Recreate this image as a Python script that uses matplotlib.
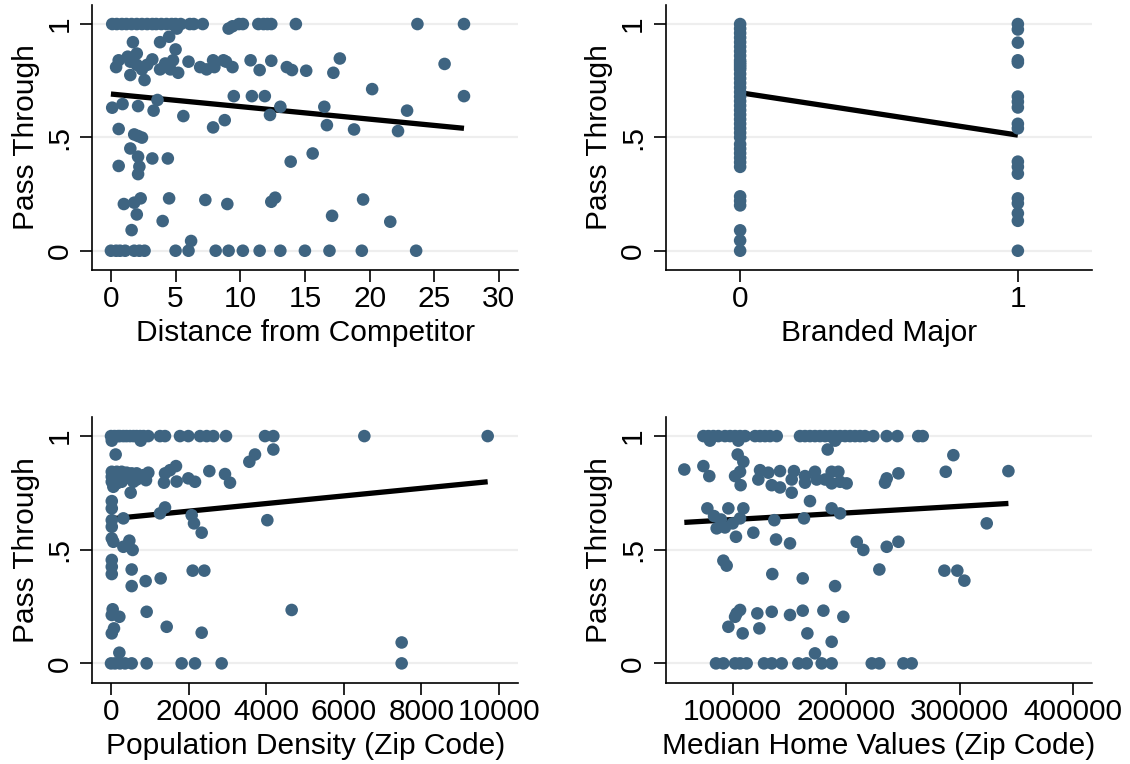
import numpy as np
import matplotlib
matplotlib.use('Agg')
import matplotlib.pyplot as plt

plt.rcParams['font.family'] = ['Liberation Sans', 'DejaVu Sans']
plt.rcParams['font.size'] = 21.5

# Pass through vs. distance from competitor
dist_x = [0.1, 0.45, 0.85, 1.2, 1.6, 2.0, 2.4, 2.8, 3.2, 3.5, 3.9, 4.3, 4.7, 5.0, 5.4, 6.1, 6.4, 7.1,
          9.9, 10.2, 11.4, 11.8, 12.1, 12.4, 14.3, 23.7, 27.3,
          5.1, 9.1, 9.4,
          1.7, 3.8, 4.5, 5.0, 2.0, 1.3, 0.6, 0.4, 1.5, 2.0,
          2.4, 2.8, 3.2, 3.8, 4.2, 4.6, 4.8, 5.2, 6.0, 6.9,
          7.4, 7.9, 8.0, 8.7, 8.9, 9.4, 10.8, 11.5, 12.4, 13.6,
          14.0, 15.1, 17.2, 17.7, 25.8, 1.5, 2.6,
          20.2, 9.5, 10.9, 11.9, 27.3,
          0.1, 0.9, 2.1, 3.6, 3.3, 5.6, 13.1, 12.3, 16.5, 22.9,
          0.6, 1.8, 2.1, 2.4, 7.9, 8.8, 16.7, 18.8, 22.2,
          1.5, 2.1, 3.2, 4.4, 0.6, 2.2, 2.1, 13.9, 15.6,
          1.0, 1.8, 2.3, 4.5, 7.3, 9.0, 12.4, 12.7, 19.5,
          2.0, 4.0, 17.1, 21.6, 1.6, 6.2,
          0.0, 0.4, 0.7, 1.1, 1.8, 2.2, 2.6, 5.0, 6.0, 8.1, 9.1, 10.2, 11.5, 13.1, 15.0, 16.9, 19.4, 23.6]
dist_y = [1] * 27 + \
         [0.98, 0.98, 0.99,
          0.92, 0.92, 0.944, 0.888, 0.87, 0.856, 0.84, 0.81, 0.834, 0.82,
          0.80, 0.82, 0.844, 0.80, 0.826, 0.80, 0.84, 0.785, 0.834, 0.81,
          0.80, 0.84, 0.81, 0.84, 0.834, 0.81, 0.84, 0.797, 0.838, 0.81,
          0.797, 0.794, 0.785, 0.848, 0.824, 0.775, 0.753,
          0.713, 0.682, 0.682, 0.682, 0.682,
          0.631, 0.647, 0.638, 0.665, 0.618, 0.594, 0.635, 0.599, 0.635, 0.618,
          0.537, 0.513, 0.506, 0.499, 0.544, 0.576, 0.554, 0.535, 0.528,
          0.451, 0.415, 0.407, 0.407, 0.374, 0.371, 0.338, 0.393, 0.429,
          0.206, 0.212, 0.231, 0.231, 0.224, 0.206, 0.216, 0.234, 0.226,
          0.16, 0.131, 0.154, 0.128, 0.091, 0.043] + [0] * 18
dist_fit = (0.6913, -0.00554)  # intercept, slope

# Pass through vs. branded major
brand0_y = [1.0, 0.98, 0.96, 0.94, 0.92, 0.90, 0.88, 0.86, 0.84, 0.83, 0.82, 0.81, 0.80,
            0.78, 0.76, 0.74, 0.72, 0.70, 0.68, 0.66, 0.64, 0.62, 0.60, 0.58, 0.56, 0.54,
            0.52, 0.50, 0.47, 0.45, 0.43, 0.41, 0.39, 0.37, 0.24, 0.22, 0.20, 0.09, 0.045, 0.0]
brand1_y = [1.0, 0.976, 0.918, 0.84, 0.83, 0.68, 0.657, 0.632, 0.56, 0.54,
            0.393, 0.37, 0.34, 0.231, 0.209, 0.165, 0.132, 0.0]
brand_x = [0] * len(brand0_y) + [1] * len(brand1_y)
brand_y = brand0_y + brand1_y
brand_fit = (0.697, -0.187)

# Pass through vs. population density
dens_x = [0, 90, 180, 230, 320, 400, 490, 580, 660, 750, 840, 960, 1263, 1392, 1778, 1993,
          2294, 2466, 2637, 2964, 3969, 4184, 6529, 9708,
          20, 765,
          120, 4184, 3711, 3565, 1675, 1521, 2534, 2938, 3067, 1993, 2165, 1392, 1366, 1692,
          20, 150, 275, 404, 533, 662, 833, 962, 20, 150, 318, 490, 662, 902, 20, 150, 60, 275, 576,
          507, 20, 20, 1392, 1263, 2079, 2139, 2337, 4029, 318,
          20, 20, 20, 60, 318, 473, 558, 20, 20, 20,
          533, 2105, 2405, 893, 1280, 533,
          43, 20, 215, 919, 4656, 77, 20, 1435, 2337, 7491, 215,
          0, 103, 232, 361, 533, 919, 1821, 2165, 2852, 7491]
dens_y = [1] * 24 + \
         [0.98, 0.98,
          0.919, 0.941, 0.919, 0.887, 0.868, 0.85, 0.846, 0.833, 0.795, 0.814, 0.799, 0.836, 0.795, 0.8,
          0.843, 0.843, 0.843, 0.839, 0.836, 0.836, 0.828, 0.839, 0.821, 0.818, 0.814, 0.814, 0.809,
          0.806, 0.799, 0.792, 0.777, 0.799, 0.799,
          0.751, 0.714, 0.682, 0.686, 0.66, 0.652, 0.616, 0.575, 0.63, 0.638,
          0.63, 0.601, 0.55, 0.535, 0.513, 0.54, 0.499, 0.455, 0.425, 0.393,
          0.413, 0.408, 0.408, 0.362, 0.374, 0.34,
          0.238, 0.213, 0.205, 0.227, 0.235, 0.154, 0.132, 0.161, 0.135, 0.092, 0.047] + [0] * 10
dens_fit = (0.636, 1.68e-5)

# Pass through vs. median home values
home_x = [74200, 78600, 83000, 87400, 93200, 97700, 102100, 106500, 110900, 119700, 124100,
          128500, 132900, 138800, 159300, 163700, 168100, 172500, 176900, 181400, 185800,
          190200, 194600, 199000, 203400, 207800, 212200, 216600, 223900, 235700, 245100,
          263500, 267400,
          80000, 105000, 190200,
          183700, 104400, 109400, 294400, 57400, 74200, 79400, 102100, 106500, 107000,
          124100, 122600, 131400, 141700, 134400, 141700, 152000, 154000, 152000, 163700,
          163700, 172500, 174000, 181400, 187200, 193100, 187200, 194600, 200400, 168100,
          235700, 234200, 246000, 287700, 342900,
          77700, 96200, 109400, 83600, 89700, 85900, 93200, 100000, 106500, 102900,
          118200, 136700, 138200, 150500, 162800, 187200, 194600, 209300, 215100, 235700,
          246000, 323800,
          91800, 94700, 134900, 161700, 190200, 229200, 286500, 297900, 304100,
          106500, 103500, 102100, 96200, 108800, 121700, 123500, 134400, 150500, 161700,
          179900, 197500, 165800, 187200, 172500,
          85300, 91800, 102100, 106500, 112300, 127600, 134400, 143200, 157900, 165200,
          178400, 187200, 222500, 229200, 250400, 257700]
home_y = [1] * 33 + \
         [0.98, 0.98, 0.98,
          0.941, 0.919, 0.887, 0.916, 0.853, 0.868, 0.824, 0.824, 0.843, 0.784,
          0.85, 0.809, 0.839, 0.846, 0.784, 0.774, 0.809, 0.846, 0.751, 0.824,
          0.795, 0.843, 0.809, 0.809, 0.843, 0.843, 0.792, 0.799, 0.792, 0.714,
          0.814, 0.795, 0.836, 0.843, 0.846,
          0.682, 0.682, 0.682, 0.648, 0.633, 0.594, 0.598, 0.616, 0.638, 0.557,
          0.575, 0.63, 0.545, 0.528, 0.638, 0.682, 0.66, 0.535, 0.499, 0.513,
          0.535, 0.616,
          0.452, 0.43, 0.393, 0.374, 0.34, 0.413, 0.408, 0.408, 0.364,
          0.235, 0.22, 0.205, 0.161, 0.132, 0.22, 0.154, 0.227, 0.213, 0.232,
          0.232, 0.205, 0.132, 0.095, 0.044] + [0] * 16
home_fit = (0.6035, 2.92e-7)

panels = [
    (dist_x, dist_y, dist_fit, 'Distance from Competitor', (-1.44, 31.5), np.arange(0, 31, 5),
     [92.3, 5, 426, 265]),
    (brand_x, brand_y, brand_fit, 'Branded Major', (-0.268, 1.268), [0, 1],
     [665.7, 5, 426.6, 265]),
    (dens_x, dens_y, dens_fit, 'Population Density (Zip Code)', (-482, 10497), np.arange(0, 10001, 2000),
     [92.3, 417, 426, 265.7]),
    (home_x, home_y, home_fit, 'Median Home Values (Zip Code)', (41000, 416800),
     [100000, 200000, 300000, 400000], [665.7, 417, 426.6, 265.7]),
]

W, H = 1130, 764
fig = plt.figure(figsize=(W / 100, H / 100), dpi=100)

dot_color = '#3e6481'
for xs, ys, fit, xlabel, xlim, xticks, box in panels:
    left, top, w, h = box
    ax = fig.add_axes([left / W, 1 - (top + h) / H, w / W, h / H])
    xs = np.array(xs, dtype=float)
    ys = np.array(ys, dtype=float)

    # fitted line under the markers
    fx = np.array([xs.min(), xs.max()])
    ax.plot(fx, fit[0] + fit[1] * fx, color='black', lw=3.8, zorder=2, solid_capstyle='butt')
    ax.scatter(xs, ys, s=82, color=dot_color, edgecolors='none', zorder=3)

    ax.set_xlim(*xlim)
    ax.set_ylim(-0.085, 1.084)
    ax.set_xticks(xticks)
    ax.set_xticklabels([str(int(t)) for t in xticks])
    ax.set_yticks([0, 0.5, 1])
    ax.set_yticklabels(['0', '.5', '1'])
    ax.tick_params(axis='y', labelrotation=90, length=8.5, width=1.2, pad=5)
    ax.tick_params(axis='x', length=8.5, width=1.2, pad=2.5)
    for lbl in ax.get_yticklabels():
        lbl.set_va('center')
    ax.grid(axis='y', color='#eeeeee', lw=1.6, zorder=0)
    ax.set_axisbelow(True)
    for side in ['top', 'right']:
        ax.spines[side].set_visible(False)
    for side in ['left', 'bottom']:
        ax.spines[side].set_linewidth(1.2)
        ax.spines[side].set_color('black')
    ax.set_xlabel(xlabel, labelpad=4)
    ax.set_ylabel('Pass Through', labelpad=4)

fig.savefig('out.png', dpi=100, facecolor='white')
